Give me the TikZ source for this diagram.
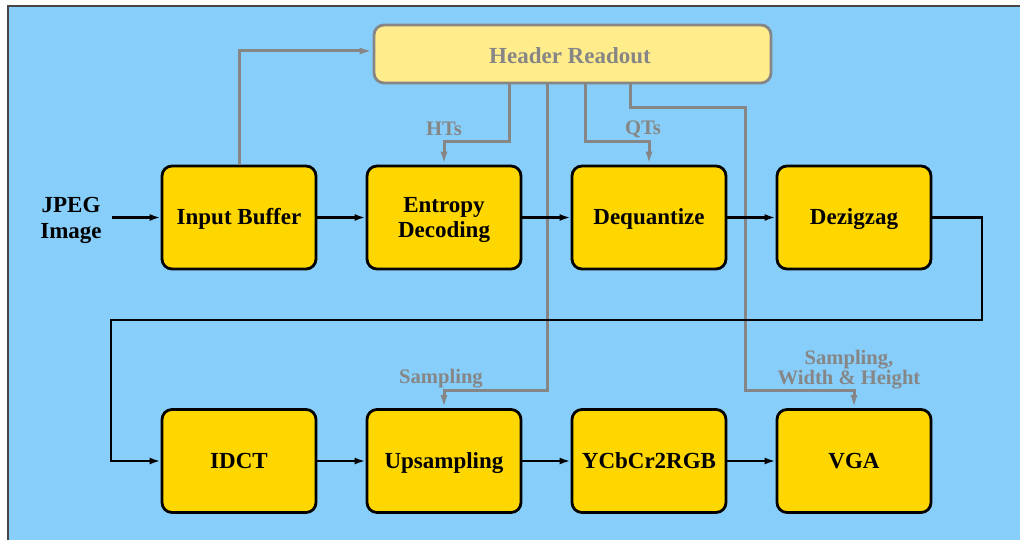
\documentclass[tikz,border=0pt]{standalone}
\usepackage{fontspec}
\setmainfont{Liberation Serif}
\usetikzlibrary{arrows.meta}
\definecolor{skyfill}{RGB}{135,206,250}
\definecolor{stagefill}{RGB}{255,215,0}
\definecolor{headfill}{RGB}{255,236,139}
\definecolor{infogray}{RGB}{134,134,134}
\definecolor{framegray}{RGB}{70,70,70}
% stacked text, lowered a little while keeping its box size for centring
\newcommand\stagetext[2][2.5pt]{\raisebox{-#1}[\height][\depth]{\begin{tabular}{@{}c@{}}#2\end{tabular}}}
\tikzset{
  stagebox/.style={draw=black, fill=stagefill, line width=2.8pt, rounded corners=10pt,
    minimum width=154pt, minimum height=103pt, inner sep=0pt,
    font=\fontsize{23}{25}\selectfont\bfseries},
  headbox/.style={draw=infogray, fill=headfill, line width=2.8pt, rounded corners=10pt,
    minimum width=397pt, minimum height=58pt, inner sep=0pt, text=infogray,
    font=\fontsize{23}{25}\selectfont\bfseries},
  infolabel/.style={text=infogray, align=center, inner sep=0pt,
    font=\fontsize{20.6}{18.3}\selectfont\bfseries},
  flow/.style={draw=black, line width=2.4pt, -{Latex[length=11pt,width=7pt]}},
  infoflow/.style={draw=infogray, line width=3pt, -{Latex[length=13pt,width=7pt]}},
}
\begin{document}
\begin{tikzpicture}[x=1pt, y=-1pt]
  \useasboundingbox (0,0) rectangle (1020,540);
  % backdrop panel with its frame on the top and left sides
  \fill[skyfill] (8,6) rectangle (1020,540);
  \draw[framegray, line width=1.4pt] (8,540) -- (8,6) -- (1020,6);

  % header block
  \node[headbox] (hr) at (572.5,54) {\hspace*{-5pt}\stagetext[5pt]{Header Readout}};

  % processing stages, first row
  \node[stagebox] (ib) at (239,217.5) {\stagetext{Input Buffer}};
  \node[stagebox] (ed) at (444,217.5) {\stagetext{Entropy\\Decoding}};
  \node[stagebox] (dq) at (649,217.5) {\stagetext{Dequantize}};
  \node[stagebox] (dz) at (854,217.5) {\stagetext{Dezigzag}};

  % processing stages, second row
  \node[stagebox] (idct) at (239,461) {\stagetext[2.5pt]{IDCT}};
  \node[stagebox] (us) at (444,461) {\stagetext{Upsampling}};
  \node[stagebox] (cc) at (649,461) {\stagetext{YCbCr2RGB}};
  \node[stagebox] (vga) at (854,461) {\stagetext[2.5pt]{VGA}};

  % input label
  \node[align=center, inner sep=0pt, font=\fontsize{23}{26}\selectfont\bfseries] (jp) at (71,220) {JPEG\\Image};

  % side-information labels
  \node[infolabel] (lht) at (444,129) {HTs};
  \node[infolabel] (lqt) at (643,129) {QTs};
  \node[infolabel] (lsm) at (441,379) {Sampling};
  \node[infolabel] (lwh) at (849,369.5) {Sampling,\\Width \& Height};

  % routing points
  \coordinate (hin) at ([yshift=3pt]hr.west);
  \coordinate (hht) at ([xshift=-63.5pt]hr.south);
  \coordinate (hsm) at ([xshift=-25.5pt]hr.south);
  \coordinate (hqt) at ([xshift=12.5pt]hr.south);
  \coordinate (hwh) at ([xshift=57.5pt]hr.south);
  \coordinate (wh1) at (745,108);
  \coordinate (wh2) at (745,390);
  \coordinate (sm1) at (547,390);
  \coordinate (rt1) at (982,320);
  \coordinate (lt1) at (111,320);
  \coordinate (jout) at ([xshift=10pt]jp.east);

  % header side-information (drawn first, data path on top)
  \draw[infoflow] (ib.north) |- (hin);
  \draw[infoflow] (hht) -- ++(0,57) -| (ed.north);
  \draw[infoflow] (hqt) -- ++(0,57) -| (dq.north);
  \draw[infoflow] (hsm) -- (sm1) -| (us.north);
  \draw[infoflow] (hwh) |- (wh1) -- (wh2) -| (vga.north);

  % main data path
  \draw[flow] (jout |- ib.west) -- (ib.west);
  \draw[flow] (ib) -- (ed);
  \draw[flow] (ed) -- (dq);
  \draw[flow] (dq) -- (dz);
  \draw[flow] (dz.east) -| (rt1) -- (lt1) |- (idct.west);
  \draw[flow] (idct) -- (us);
  \draw[flow] (us) -- (cc);
  \draw[flow] (cc) -- (vga);
\end{tikzpicture}
\end{document}
